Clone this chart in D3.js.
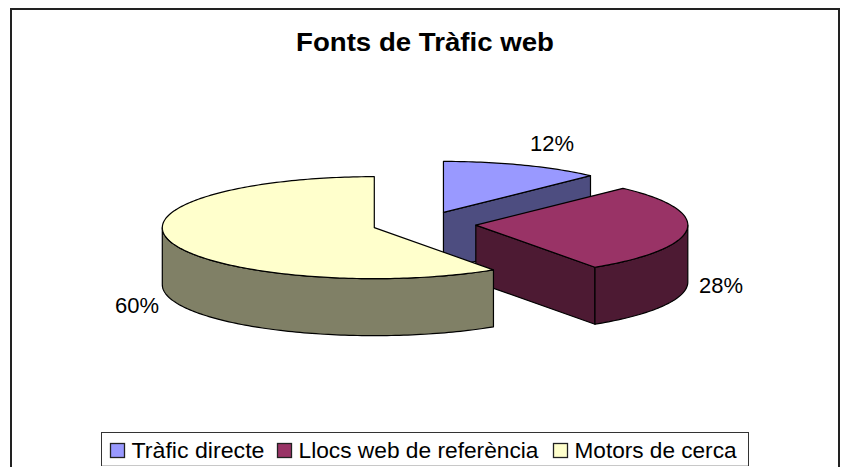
<!DOCTYPE html>
<html>
<head>
<meta charset="utf-8">
<script src="https://cdn.jsdelivr.net/npm/d3@7"></script>
<style>
  html, body { margin: 0; padding: 0; background: #fff; overflow: hidden; }
  svg { display: block; }
  text { font-family: "Liberation Sans", Arial, sans-serif; fill: #000; }
</style>
</head>
<body>
<svg></svg>
<script>
const categories = ["Tràfic directe", "Llocs web de referència", "Motors de cerca"];
const shares = [12.2, 28.3, 59.5];
const shareLabels = ["12%", "28%", "60%"];
const topColors = ["#9999FF", "#993366", "#FFFFCC"];
const sideColors = ["#4D4D80", "#4D1A33", "#808066"];

const width = 849;
const height = 467;

const cx = 424;
const cy = 224;
const rx = 212;
const ry = 51;
const depth = 57;
const explode = 52;

const svg = d3.select("svg")
  .attr("width", width)
  .attr("height", height);

// chart frame, runs off the bottom of the picture
svg.append("rect")
  .attr("x", 11)
  .attr("y", 9)
  .attr("width", 828)
  .attr("height", 500)
  .attr("fill", "#fff")
  .attr("stroke", "#222")
  .attr("stroke-width", 2);

// the reference text is stretched sideways, so the widths are pinned with textLength
svg.append("text")
  .attr("x", 296)
  .attr("y", 50.5)
  .attr("font-size", 26)
  .attr("font-weight", "bold")
  .attr("textLength", 258)
  .attr("lengthAdjust", "spacingAndGlyphs")
  .text("Fonts de Tràfic web");

const slices = d3.pie().sort(null)(shares);

const line = d3.line();

function rim(center, t, drop) {
  return [
    center[0] + rx * Math.sin(t),
    center[1] - ry * Math.cos(t) + drop
  ];
}

function arcPoints(center, a, b, drop) {
  const n = Math.max(2, Math.ceil((b - a) / 0.02));
  return d3.range(n + 1).map(i => rim(center, a + (b - a) * i / n, drop));
}

const pie = svg.append("g")
  .attr("stroke", "#000")
  .attr("stroke-width", 1.2)
  .attr("stroke-linejoin", "round");

slices.forEach((s, i) => {
  const mid = (s.startAngle + s.endAngle) / 2;
  const center = [
    cx + explode * Math.sin(mid),
    cy - explode * Math.cos(mid) * ry / rx
  ];
  const low = [center[0], center[1] + depth];

  // cut face of the slice, only when it looks towards us
  const faces = [];
  if (Math.sin(s.endAngle) > 0) faces.push(s.endAngle);
  if (Math.sin(s.startAngle) < 0) faces.push(s.startAngle);
  faces.forEach(t => {
    pie.append("path")
      .attr("fill", sideColors[i])
      .attr("d", line([center, rim(center, t, 0), rim(center, t, depth), low]) + "Z");
  });

  // outer wall, front half only
  const a = Math.max(s.startAngle, Math.PI / 2);
  const b = Math.min(s.endAngle, Math.PI * 1.5);
  if (b > a) {
    pie.append("path")
      .attr("fill", sideColors[i])
      .attr("d", line(arcPoints(center, a, b, 0).concat(arcPoints(center, a, b, depth).reverse())) + "Z");
  }

  pie.append("path")
    .attr("fill", topColors[i])
    .attr("d", line([center].concat(arcPoints(center, s.startAngle, s.endAngle, 0))) + "Z");
});

// value labels
const labelX = [530, 699, 115];
const labelY = [151, 293, 313];
svg.selectAll(".pct")
  .data(shareLabels)
  .join("text")
  .attr("class", "pct")
  .attr("x", (d, i) => labelX[i])
  .attr("y", (d, i) => labelY[i])
  .attr("font-size", 22)
  .attr("textLength", 44)
  .attr("lengthAdjust", "spacingAndGlyphs")
  .text(d => d);

// legend
const legend = svg.append("g");

legend.append("rect")
  .attr("x", 101.5)
  .attr("y", 432.5)
  .attr("width", 647)
  .attr("height", 33)
  .attr("fill", "#fff")
  .attr("stroke", "#333");

legend.append("line")
  .attr("x1", 102)
  .attr("x2", 748)
  .attr("y1", 465.5)
  .attr("y2", 465.5)
  .attr("stroke", "#c8c8c8");

const legendX = [110.5, 277.5, 553.5];
const legendW = [133, 240, 162];
const item = legend.selectAll(".item")
  .data(categories)
  .join("g")
  .attr("class", "item")
  .attr("transform", (d, i) => `translate(${legendX[i]}, 443.5)`);

item.append("rect")
  .attr("width", 14)
  .attr("height", 14)
  .attr("fill", (d, i) => topColors[i])
  .attr("stroke", "#222")
  .attr("stroke-width", 1.3);

item.append("text")
  .attr("x", 21)
  .attr("y", 14.5)
  .attr("font-size", 22)
  .attr("textLength", (d, i) => legendW[i])
  .attr("lengthAdjust", "spacingAndGlyphs")
  .text(d => d);
</script>
</body>
</html>
